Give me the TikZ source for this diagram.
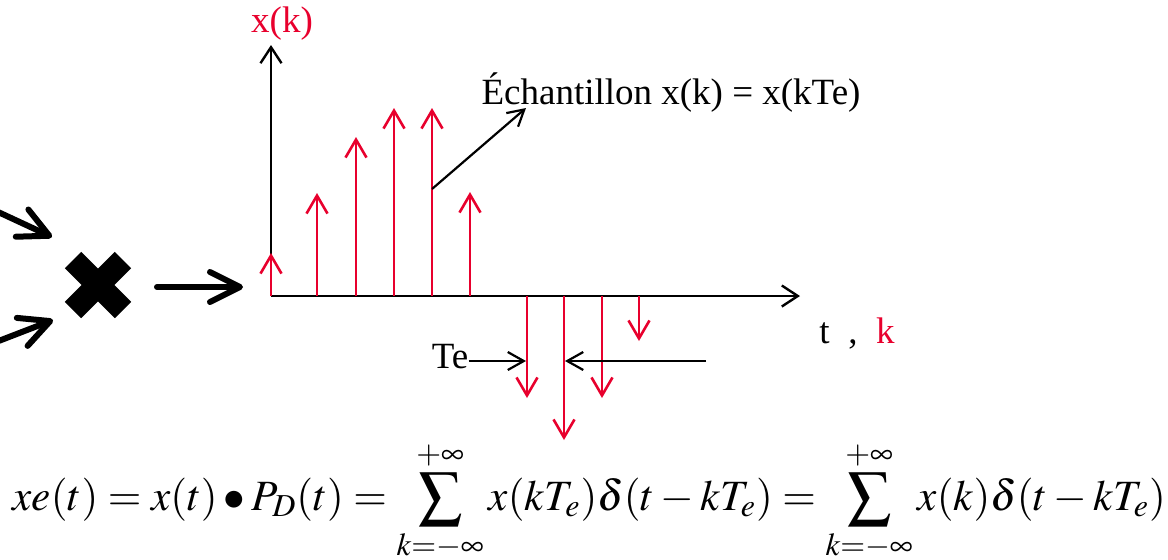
\documentclass[tikz,border=0pt]{standalone}
\usepackage{mathptmx}
\usepackage[no-math]{fontspec}
\setmainfont{Liberation Serif}
\usetikzlibrary{arrows.meta,calc}
\definecolor{stemred}{HTML}{E8002D}

\begin{document}
\begin{tikzpicture}[x=0.5pt,y=-0.5pt,
    lbl/.style={inner sep=0pt,font=\fontsize{18.5}{20}\selectfont},
    axis/.style={line width=1.4pt,-{Straight Barb[length=8pt,width=10.5pt,line width=1.2pt]}},
    stem/.style={stemred,line width=1.3pt,-{Straight Barb[length=9pt,width=10.5pt]}},
    fat/.style={line width=3pt,line cap=round,-{Straight Barb[length=15pt,width=15pt,round]}},
    thin/.style={line width=1.1pt,-{Straight Barb[length=8pt,width=9pt]}}]
  \useasboundingbox (0,0) rectangle (1168,559);
  % multiplier and its inputs
  \coordinate (mult) at (98,285);
  \draw[line width=11.5pt] ($(mult)+(-25,-25)$) -- ($(mult)+(25,25)$)
                           ($(mult)+(-25,25)$) -- ($(mult)+(25,-25)$);
  \coordinate (in1) at (-4,211);
  \coordinate (in2) at (-4,342);
  \draw[fat] (in1) -- ($(mult)+(-46,-48)$);
  \draw[fat] (in2) -- ($(mult)+(-45,35)$);
  \draw[fat] ($(mult)+(59,2)$) -- ($(mult)+(145,2)$);
  % axes
  \coordinate (O) at (271,296);
  \draw[axis] (O) -- (271,45);
  \draw[axis] (O) -- (800,296);
  \node[lbl,text=stemred] (xk) at (282,24) {x(k)};
  \node[lbl] (tk) at (857,333) {t\ \ ,\ \ \textcolor{stemred}{k}};
  % samples
  \foreach \i/\x/\y in {1/271/253,2/317/193,3/356/137,4/394/108,5/432/108,
                        6/470/192,7/527/398,8/564/440,9/602/398,10/639/341}
    \draw[stem] (\x,296) -- (\x,\y) coordinate (s\i);
  \node[lbl] (ech) at (671,93) {Échantillon x(k) = x(kTe)};
  \coordinate (e0) at (432,189);
  \draw[thin] (e0) -- (526,108);
  \node[lbl] (te) at (450,357) {Te};
  \draw[thin] ($(te.east)+(0,4)$) -- (526,361);
  \coordinate (tr) at (706,361);
  \draw[thin] (tr) -- (565,361);
  % formula
  \node[anchor=base west,inner sep=0pt,font=\fontsize{21.6}{24}\selectfont] (eq) at (12,510)
    {$\displaystyle xe(t)=x(t)\bullet P_D(t)=\sum_{k=-\infty}^{+\infty}x(kT_e)\delta(t-kT_e)
      =\sum_{k=-\infty}^{+\infty}x(k)\delta(t-kT_e)$};
\end{tikzpicture}
\end{document}
